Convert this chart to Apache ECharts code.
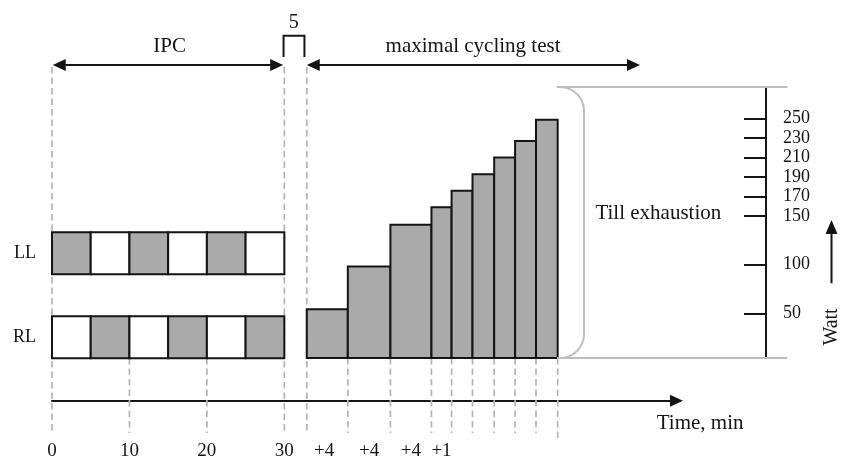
<!DOCTYPE html>
<html><head><meta charset="utf-8">
<script src="https://cdn.jsdelivr.net/npm/echarts@6/dist/echarts.min.js"></script>
<style>html,body{margin:0;padding:0;background:#fff}#c{width:850px;height:457px}</style>
</head><body><div id="c"></div>
<script>
// ---------- data ----------
const ipcEdges = [0, 5, 10, 15, 20, 25, 30];            // IPC blocks, minutes
const rowNames = ['LL', 'RL'];
const llOcclusion = [1, 0, 1, 0, 1, 0];                 // 1 = cuff inflated (grey)
const rlOcclusion = [0, 1, 0, 1, 0, 1];
const stageEdges = [32.9, 38.2, 43.7, 49.0, 51.6, 54.3, 57.1, 59.8, 62.5, 65.3]; // schematic time units
const stageWatts = [54, 98, 141, 159, 176, 193, 210, 227, 249];
const wattTicks = [50, 100, 150, 170, 190, 210, 230, 250];
const timeTicks = [0, 10, 20, 30];
const stageLabels = ['+4', '+4', '+4', '+1'];
const texts = { ipc: 'IPC', gap: '5', test: 'maximal cycling test', till: 'Till exhaustion', time: 'Time, min', watt: 'Watt' };

// ---------- layout / style ----------
const FONT = '"Liberation Serif", "Times New Roman", serif';
const INK = '#141414', GREY = '#aaaaaa', GUIDE = '#b4b4b4', SOFT = '#bdbdbd';
const X_MAX = 92.2, W_MIN = 4, W_MAX = 282.6;

const timeLabelValues = timeTicks.slice();
const timeLabelText = timeTicks.map(String);
stageLabels.forEach((l, i) => { timeLabelValues.push((stageEdges[i] + stageEdges[i + 1]) / 2 - (i === 0 ? 0.4 : 0)); timeLabelText.push(l); });

const rowData = [];
[llOcclusion, rlOcclusion].forEach((pat, r) => pat.forEach((o, b) => rowData.push([ipcEdges[b], r, ipcEdges[b + 1], o])));
const barData = stageWatts.map((w, i) => [stageEdges[i], stageEdges[i + 1], w]);

const guideData = [];
const longX = [ipcEdges[0], ipcEdges[ipcEdges.length - 1], stageEdges[0]];
timeTicks.concat(stageEdges).forEach((x) => {
  const isLong = longX.indexOf(x) >= 0;
  const isLast = x === stageEdges[stageEdges.length - 1];
  guideData.push([x, isLong ? 303.2 : W_MIN, isLast ? -81.3 : -73.1]);
});

function tri(tip, dir, len, half, vertical) {
  const [x, y] = tip;
  if (!vertical) return [[x, y], [x - dir * len, y - half], [x - dir * len, y + half]];
  return [[x, y], [x - half, y - dir * len], [x + half, y - dir * len]];
}

const chart = echarts.init(document.getElementById('c'), null, { renderer: 'canvas' });
chart.setOption({
  animation: false,
  backgroundColor: '#fff',
  grid: [
    { left: 52, right: 84, top: 87, bottom: 99, containLabel: false, outerBoundsMode: 'none' },
    { left: 52, right: 173.5, top: 380, bottom: 56.3, containLabel: false, outerBoundsMode: 'none' },
    { left: 52, right: 84, top: 211.3, bottom: 77.7, containLabel: false, outerBoundsMode: 'none' }
  ],
  xAxis: [
    { gridIndex: 0, type: 'value', min: 0, max: X_MAX, show: false },
    { gridIndex: 1, type: 'value', min: 0, max: 80.65,
      axisLine: { show: true, onZero: false, symbol: ['none', 'triangle'], symbolSize: [12, 13], lineStyle: { color: INK, width: 2 } },
      axisTick: { show: false }, splitLine: { show: false },
      axisLabel: { show: true, customValues: timeLabelValues, margin: 41, fontSize: 19, fontFamily: FONT, color: INK,
        formatter: v => { const i = timeLabelValues.findIndex(t => Math.abs(t - v) < 1e-6); return i >= 0 ? timeLabelText[i] : ''; } } },
    { gridIndex: 2, type: 'value', min: 0, max: X_MAX, show: false }
  ],
  yAxis: [
    { gridIndex: 0, type: 'value', min: W_MIN, max: W_MAX, position: 'right',
      axisLine: { show: true, onZero: false, lineStyle: { color: INK, width: 2 } },
      axisTick: { show: true, inside: true, length: 22, customValues: wattTicks, lineStyle: { color: INK, width: 2 } },
      axisLabel: { show: true, customValues: wattTicks, margin: 17, fontSize: 18, fontFamily: FONT, color: INK, padding: [10, 0, 0, 0] },
      splitLine: { show: false } },
    { gridIndex: 1, type: 'value', min: 0, max: 1, show: false },
    { gridIndex: 2, type: 'category', data: rowNames, inverse: true,
      axisLine: { show: false }, axisTick: { show: false }, splitLine: { show: false },
      axisLabel: { margin: 16, fontSize: 18, fontFamily: FONT, color: INK } }
  ],
  series: [
    { type: 'custom', name: 'guides', xAxisIndex: 0, yAxisIndex: 0, clip: false, z: 1, silent: true,
      data: guideData, encode: { x: 0, y: [1, 2] },
      renderItem: (p, api) => {
        const a = api.coord([api.value(0), api.value(1)]), b = api.coord([api.value(0), api.value(2)]);
        return { type: 'line', shape: { x1: a[0], y1: a[1], x2: b[0], y2: b[1] },
          style: { stroke: GUIDE, lineWidth: 1.7, lineDash: [6.5, 4] } };
      } },
    { type: 'custom', name: 'IPC cycles', xAxisIndex: 2, yAxisIndex: 2, z: 2, silent: true,
      data: rowData, encode: { x: [0, 2], y: 1 },
      renderItem: (p, api) => {
        const r = api.value(1);
        const a = api.coord([api.value(0), r]), b = api.coord([api.value(2), r]);
        const h = api.size([0, 1])[1] * 0.5;
        return { type: 'rect', shape: { x: a[0], y: a[1] - h / 2, width: b[0] - a[0], height: h },
          style: { fill: api.value(3) ? GREY : '#fff', stroke: INK, lineWidth: 2 } };
      } },
    { type: 'custom', name: 'Workload', xAxisIndex: 0, yAxisIndex: 0, z: 2, silent: true,
      data: barData, encode: { x: [0, 1], y: 2 },
      renderItem: (p, api) => {
        const a = api.coord([api.value(0), api.value(2)]), b = api.coord([api.value(1), W_MIN]);
        return { type: 'rect', shape: { x: a[0], y: a[1], width: b[0] - a[0], height: b[1] - a[1] },
          style: { fill: GREY, stroke: INK, lineWidth: 2 } };
      } },
    { type: 'custom', name: 'annotations', xAxisIndex: 0, yAxisIndex: 0, clip: false, z: 3, silent: true,
      data: [[0, 0]],
      renderItem: (p, api) => {
        const P = (x, w) => api.coord([x, w]);
        const ch = [];
        const line = (pts, style) => ch.push({ type: 'polyline', shape: { points: pts }, style: Object.assign({ fill: null, stroke: INK, lineWidth: 2 }, style || {}) });
        const poly = pts => ch.push({ type: 'polygon', shape: { points: pts }, style: { fill: INK } });
        const text = (t, x, y, size, align, rot) => ch.push({ type: 'text', x: x, y: y, rotation: rot || 0,
          style: { text: t, fill: INK, fontSize: size, fontFamily: FONT, align: align || 'center', textAlign: align || 'center', verticalAlign: 'middle', textVerticalAlign: 'middle' } });
        const dArrow = (xa, xb, w) => {
          const a = P(xa, w), b = P(xb, w);
          line([[a[0] + 10, a[1]], [b[0] - 10, b[1]]]);
          poly(tri(a, -1, 13, 6)); poly(tri(b, 1, 13, 6));
        };
        // top double arrows and labels
        dArrow(0.1, 29.85, 305.2);
        dArrow(32.9, 75.93, 305.2);
        let q = P(15.2, 324.2); text(texts.ipc, q[0], q[1], 21);
        q = P(54.37, 324.2); text(texts.test, q[0], q[1], 21);
        // 5-minute bracket
        line([P(29.9, 313.4), P(29.9, 335.3), P(32.6, 335.3), P(32.6, 313.4)]);
        q = P(31.21, 348.4); text(texts.gap, q[0], q[1], 20);
        // exhaustion bracket (soft grey)
        const tl = P(65.2, W_MAX), tr = P(94.95, W_MAX), bl = P(65.2, W_MIN), br = P(94.95, W_MIN);
        line([tl, tr], { stroke: SOFT, lineWidth: 2 });
        line([bl, br], { stroke: SOFT, lineWidth: 2 });
        const vx = P(68.7, 0)[0], ax = P(65.6, 0)[0], R = vx - ax;
        const arcPts = [];
        for (let i = 0; i <= 12; i++) { const t = -Math.PI / 2 + (Math.PI / 2) * i / 12; arcPts.push([ax + R * Math.cos(t), tl[1] + R + R * Math.sin(t)]); }
        for (let i = 0; i <= 12; i++) { const t = (Math.PI / 2) * i / 12; arcPts.push([ax + R * Math.cos(t), bl[1] - R + R * Math.sin(t)]); }
        line(arcPts, { stroke: SOFT, lineWidth: 2 });
        q = P(78.3, 152.4); text(texts.till, q[0], q[1], 21);
        // Watt arrow and label
        const wa = P(100.66, 80.9), wt = P(100.66, 145.9);
        line([wa, [wt[0], wt[1] + 10]]);
        poly(tri(wt, -1, 14, 6, true));
        q = P(100.75, 35.9); text(texts.watt, q[0], q[1], 20, 'center', Math.PI / 2);
        // time axis title
        q = P(78.09, -63.8); text(texts.time, q[0], q[1], 21, 'left');
        return { type: 'group', children: ch };
      } }
  ]
});
</script></body></html>
